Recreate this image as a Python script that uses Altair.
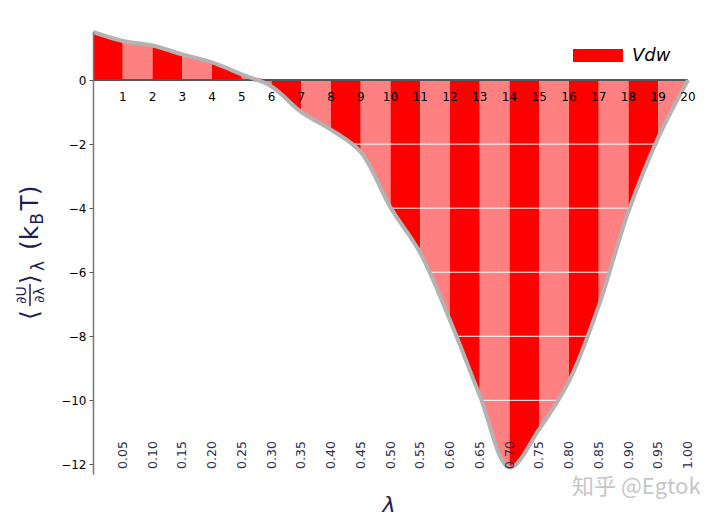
import altair as alt
import pandas as pd

# ---------------- data ----------------
states = list(range(21))
dudl = [1.50, 1.22, 1.08, 0.80, 0.55, 0.18, -0.20, -1.00, -1.55, -2.25,
        -3.98, -5.40, -7.50, -9.85, -12.10, -10.90, -9.40, -7.05, -4.10,
        -1.80, 0.00]
state_labels = [str(i) for i in range(1, 21)]
lambda_labels = ["0.05", "0.10", "0.15", "0.20", "0.25", "0.30", "0.35",
                 "0.40", "0.45", "0.50", "0.55", "0.60", "0.65", "0.70",
                 "0.75", "0.80", "0.85", "0.90", "0.95", "1.00"]
y_ticks = [0, -2, -4, -6, -8, -10, -12]
grid_values = [-2, -4, -6, -8, -10]
series_name = "Vdw"

W, H = 595, 442
Y_MIN, Y_MAX = -12.3, 1.5
NAVY = "#1b1b5e"
FONT = "DejaVu Sans"
INTERP = "catmull-rom"

curve = pd.DataFrame({"state": states, "v": dudl})
stripes = pd.DataFrame({
    "s0": states[:-1],
    "s1": states[1:],
    "shade": ["dark" if i % 2 == 0 else "light" for i in states[:-1]],
})
top_labels = pd.DataFrame({"state": states[1:], "label": state_labels})
bottom_labels = pd.DataFrame({"state": states[1:], "label": lambda_labels})
grid_df = pd.DataFrame({"g": grid_values})
one = pd.DataFrame({"a": [0]})

xs = alt.Scale(domain=[0, 20], nice=False, zero=False)
ys = alt.Scale(domain=[Y_MIN, Y_MAX], nice=False, zero=False)

X = alt.X("state:Q", scale=xs, axis=None)

stripe_layer = alt.Chart(stripes).mark_rect().encode(
    x=alt.X("s0:Q", scale=xs, axis=None),
    x2="s1:Q",
    y=alt.value(0),
    y2=alt.value(H),
    color=alt.Color("shade:N", scale=alt.Scale(domain=["dark", "light"],
                                              range=["#ff0000", "#ff8080"]),
                    legend=None),
)

upper_mask = alt.Chart(curve).transform_calculate(
    pos="max(datum.v, 0)", top=str(Y_MAX)
).mark_area(color="white", interpolate=INTERP, orient="vertical").encode(
    x=X,
    y=alt.Y("pos:Q", scale=ys,
            axis=alt.Axis(values=y_ticks, grid=False, domainColor="#777777",
                          domainWidth=1.5, tickColor="#555555", tickSize=4,
                          labelFontSize=12, labelColor="black", labelPadding=3,
                          labelFont=FONT, title=None, zindex=1)),
    y2="top:Q",
)

lower_mask = alt.Chart(curve).transform_calculate(
    neg="min(datum.v, 0)", bottom=str(Y_MIN)
).mark_area(color="white", interpolate=INTERP, orient="vertical").encode(
    x=X,
    y=alt.Y("neg:Q", scale=ys),
    y2="bottom:Q",
)

grid_layer = alt.Chart(grid_df).mark_rule(color="white", strokeWidth=1).encode(
    y=alt.Y("g:Q", scale=ys),
)

zero_line = alt.Chart(one).mark_rule(color="#555555", strokeWidth=2).encode(
    y=alt.datum(0),
)

curve_line = alt.Chart(curve).mark_line(
    color="#b3b3b3", strokeWidth=4, interpolate=INTERP
).encode(x=X, y=alt.Y("v:Q", scale=ys))

top_text = alt.Chart(top_labels).mark_text(
    fontSize=12, font=FONT, color="black", dy=17
).encode(x=X, y=alt.datum(0), text="label:N")

bottom_text = alt.Chart(bottom_labels).mark_text(
    fontSize=12.5, font=FONT, color="#2d2d4d", angle=270, align="left",
    baseline="middle"
).encode(x=X, y=alt.value(H - 5), text="label:N")

legend_rect = alt.Chart(one).mark_rect(color="#ff0000").encode(
    x=alt.value(480), x2=alt.value(530), y=alt.value(17), y2=alt.value(30)
)
legend_text = alt.Chart(one).mark_text(
    text=series_name, fontSize=18, font=FONT, fontStyle="italic",
    align="left", baseline="middle", color="black"
).encode(x=alt.value(539), y=alt.value(24))


def title_piece(txt, cy, bx, size):
    return alt.Chart(one).mark_text(
        text=txt, fontSize=size, font=FONT, color=NAVY, angle=270,
        align="center", baseline="alphabetic"
    ).encode(x=alt.value(bx - 93), y=alt.value(cy - 32))


title_layers = [
    title_piece("T)", 198, 38, 25),
    title_piece("B", 219, 43, 17),
    title_piece("(k", 238, 38, 25),
    title_piece("λ", 266, 44, 17),
    title_piece("⟩", 279, 38, 25),
    title_piece("∂U", 295, 26, 14),
    title_piece("∂λ", 295, 44, 14),
    title_piece("⟨", 315, 38, 25),
]
frac_bar = alt.Chart(one).mark_rule(color=NAVY, strokeWidth=1.5).encode(
    x=alt.value(30 - 93), y=alt.value(284 - 32), y2=alt.value(306 - 32)
)

x_title = alt.Chart(one).mark_text(
    text="λ", fontSize=22, font=FONT, fontStyle="italic", color=NAVY,
    align="center", baseline="middle"
).encode(x=alt.value(296), y=alt.value(473))

watermark = alt.Chart(one).mark_text(
    text="知乎 @Egtok", fontSize=22, font="Noto Sans CJK SC", color="#c6c6c6",
    align="left", baseline="middle"
).encode(x=alt.value(479), y=alt.value(455))

chart = alt.layer(
    stripe_layer, upper_mask, lower_mask, grid_layer, zero_line, curve_line,
    top_text, bottom_text, legend_rect, legend_text, *title_layers, frac_bar,
    x_title, watermark,
).properties(
    width=W, height=H,
    autosize=alt.AutoSizeParams(type="none"),
    padding={"left": 93, "top": 32, "right": 32, "bottom": 45},
).configure_view(stroke=None)

chart.save("out.html", embed_options={"renderer": "svg", "actions": False})
